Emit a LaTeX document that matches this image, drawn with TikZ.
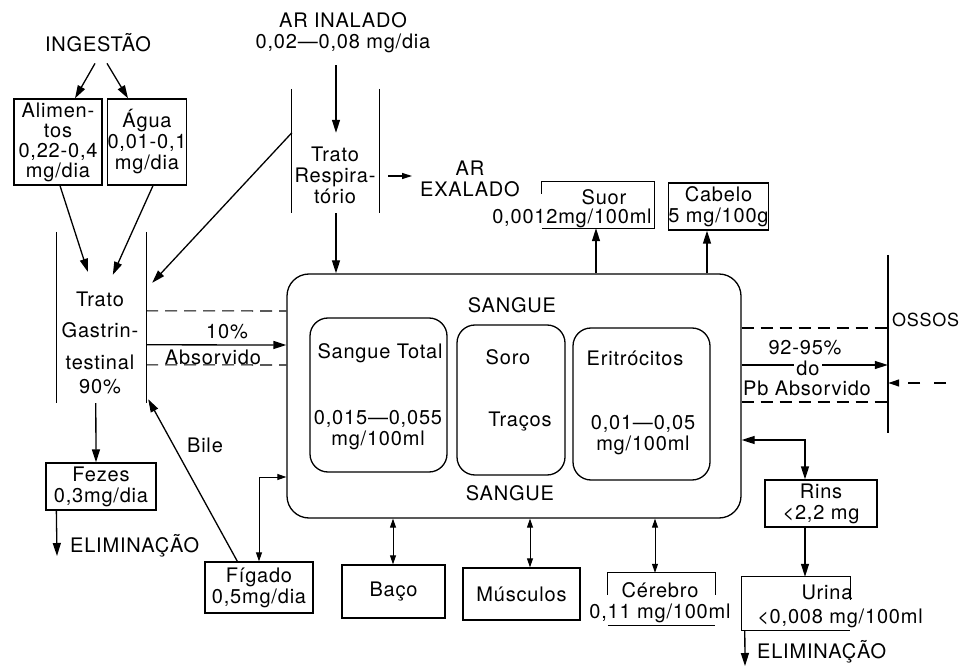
\documentclass[tikz,border=0pt]{standalone}
\usepackage{fontspec}
\setmainfont[LetterSpace=4]{TeX Gyre Heros}
\usetikzlibrary{arrows.meta}

\tikzset{
  txt/.style={font=\fontsize{20}{21}\selectfont, inner sep=0pt, align=center},
  box/.style={txt, draw, line width=1.3pt},
  zone/.style={inner sep=0pt, minimum width=0pt, minimum height=0pt},
  cell/.style={draw, line width=1.3pt, rounded corners=18pt},
  wall/.style={line width=1.3pt},
  arr/.style={line width=1.3pt, -{Triangle[length=13pt,width=8pt]}},
  biarr/.style={line width=1pt, {Triangle[length=9pt,width=6pt]}-{Triangle[length=9pt,width=6pt]}},
  bigbiarr/.style={line width=1.3pt, {Triangle[length=13pt,width=8pt]}-{Triangle[length=13pt,width=8pt]}},
  hatch/.style={line width=1.1pt, dash pattern=on 12pt off 7pt},
}

\begin{document}
\begin{tikzpicture}[x=1pt,y=-1pt]
\useasboundingbox (0,0) rectangle (962,668);

% ingestao
\node[txt] (ingest) at (98,43) {INGESTÃO};
\node[box, minimum width=88, minimum height=86] (alim) at (58,142) {Alimen-\\[-1pt]tos\\[-1pt]0,22-0,4\\[-1pt]mg/dia};
\node[box, minimum width=66, minimum height=86] (agua) at (147,142) {Água\\0,01-0,1\\mg/dia};
\draw[arr] ([xshift=-3pt,yshift=-11pt]ingest.south) -- ([xshift=17pt]alim.north);
\draw[arr] ([xshift=9pt,yshift=-11pt]ingest.south) -- ([xshift=-19pt]agua.north);

% trato gastrintestinal
\node[zone, minimum width=89, minimum height=171] (gi) at (101.5,317.5) {};
\draw[wall] (gi.north west) -- (gi.south west);
\draw[wall] (gi.north east) -- (gi.south east);
\node[txt] (gitxt) at (100,343) {Trato\\[10pt]Gastrin-\\[11pt]testinal\\[3pt]90\%};
\draw[arr] ([xshift=2pt]alim.south) -- ([xshift=31pt,yshift=-40pt]gi.north west);
\draw[arr] ([xshift=6pt]agua.south) -- ([xshift=56pt,yshift=-43pt]gi.north west);

% trato respiratorio
\node[txt] (inal) at (343,33) {AR INALADO\\0,02—0,08 mg/dia};
\node[zone, minimum width=87, minimum height=124] (resp) at (335.5,151) {};
\draw[wall] (resp.north west) -- (resp.south west);
\draw[wall] (resp.north east) -- (resp.south east);
\node[txt] (resptxt) at (335,175) {Trato\\Respira-\\tório};
\node[txt] (exal) at (470,179) {AR\\EXALADO};
\draw[arr] ([xshift=-7pt,yshift=-12pt]inal.south) -- ([xshift=0.5pt,yshift=-44pt]resp.north);
\draw[arr] ([yshift=-44pt]resp.north west) -- ([xshift=6pt,yshift=-51pt]gi.north east);
\draw[line width=1.3pt, -{Triangle[length=10pt,width=6pt]}] ([xshift=9pt,yshift=-25pt]resp.east) -- ([xshift=-8pt,yshift=3pt]exal.west);

% sangue
\node[draw, line width=1.3pt, rounded corners=22pt, minimum width=454, minimum height=244] (sangue) at (514,396) {};
\node[txt] (sangtop) at (512,305) {SANGUE};
\node[txt] (sangbot) at (510,493) {SANGUE};
\node[cell, minimum width=137, minimum height=154] (total) at (378.5,395) {};
\node[txt] (totname) at (380,353) {Sangue Total};
\node[txt] (totval) at (378,430) {0,015—0,055\\mg/100ml};
\node[cell, minimum width=108, minimum height=150] (soro) at (511,400) {};
\node[txt] (soroname) at (508,357) {Soro};
\node[txt] (soroval) at (520,422) {Traços};
\node[cell, minimum width=137, minimum height=152] (erit) at (641.5,404) {};
\node[txt] (eritname) at (635,358) {Eritrócitos};
\node[txt] (eritval) at (643,435) {0,01—0,05\\mg/100ml};
\draw[arr] ([xshift=0.5pt]resp.south) -- ([xshift=-178pt]sangue.north);

% absorcao intestinal
\draw[hatch] ([yshift=-79pt]gi.north east) -- ([yshift=85pt]sangue.west);
\draw[arr] ([yshift=-113pt]gi.north east) -- ([yshift=51pt]sangue.west);
\draw[hatch] ([yshift=-133pt]gi.north east) -- ([yshift=31pt]sangue.west);
\node[txt] (pct10) at (227,332) {10\%};
\node[txt] (absorv) at (213,357) {Absorvido};

% suor, cabelo
\node[zone, minimum width=112, minimum height=46] (suor) at (598,205) {};
\draw[wall] ([yshift=-12pt]suor.north west) -- (suor.north west) -- (suor.north east) -- (suor.south east) -- (suor.south west);
\node[txt] (suorname) at (604,197) {Suor};
\node[txt] (suorval) at (572,218) {0,0012mg/100ml};
\node[box, minimum width=89, minimum height=47] (cabelo) at (718.5,206.5) {Cabelo\\5 mg/100g};
\draw[arr] ([xshift=82pt]sangue.north) -- ([xshift=-2pt]suor.south);
\draw[arr] ([xshift=193pt]sangue.north) -- ([xshift=-11.5pt]cabelo.south);

% ossos
\node[zone, minimum height=178] (ossos) at (888,344) {};
\draw[wall] (ossos.north) -- (ossos.south);
\node[txt, font=\fontsize{18}{20}\selectfont, anchor=west] (ossoname) at (892,320) {OSSOS};
\draw[hatch] ([yshift=68pt]sangue.east) -- ([yshift=16pt]ossos.west);
\draw[arr] ([yshift=31pt]sangue.east) -- ([yshift=-21pt]ossos.west);
\draw[hatch] ([yshift=-6pt]sangue.east) -- ([yshift=-58pt]ossos.west);
\node[txt] (pct92) at (805,348) {92-95\%};
\node[txt, fill=white, inner xsep=2pt] (pctdo) at (808,368) {do};
\node[txt] (pbabs) at (807,388) {Pb Absorvido};
\coordinate (ossin) at (946,383);
\draw[line width=1.1pt, dash pattern=on 12pt off 14pt, -{Triangle[length=11pt,width=7pt]}] (ossin) -- ([yshift=-39pt]ossos.east);

% rins, urina
\node[box, minimum width=112, minimum height=47] (rins) at (821,503.5) {Rins\\<2,2 mg};
\draw[bigbiarr] ([yshift=-44pt]sangue.east) -| ([xshift=-16pt]rins.north);
\node[zone, minimum width=108, minimum height=53] (urina) at (796,603.5) {};
\draw[wall] ([yshift=-23pt]urina.north east) -- (urina.north east) -- (urina.north west) -- (urina.south west) -- (urina.south east);
\node[txt] (urname) at (827,592) {Urina};
\node[txt] (urval) at (840,618) {<0,008 mg/100ml};
\draw[arr] ([xshift=-16pt]rins.south) -- ([xshift=9pt]urina.north);
\coordinate (urout) at (745,666);
\draw[arr] ([xshift=3pt]urina.south west) -- (urout);
\node[txt, anchor=west] (elim2) at (757,652) {ELIMINAÇÃO};

% fezes
\node[box, minimum width=110, minimum height=47] (fezes) at (101,486.5) {Fezes\\0,3mg/dia};
\draw[arr] ([xshift=39pt]gi.south west) -- ([xshift=-5pt]fezes.north);
\coordinate (fezout) at (57,556);
\draw[arr] ([xshift=11pt]fezes.south west) -- (fezout);
\node[txt, anchor=west] (elim1) at (70,546) {ELIMINAÇÃO};

% figado, baco, musculos, cerebro
\node[box, minimum width=108, minimum height=51] (figado) at (259,587.5) {Fígado\\0,5mg/dia};
\draw[arr] ([xshift=33pt]figado.north west) -- ([xshift=2pt,yshift=4pt]gi.south east);
\node[txt] (bile) at (205,445) {Bile};
\draw[biarr] (figado.north) |- ([yshift=-81pt]sangue.west);
\node[box, minimum width=103, minimum height=53] (baco) at (393.5,591.5) {Baço};
\draw[biarr] ([xshift=-121pt]sangue.south) -- ([xshift=-0.5pt]baco.north);
\node[box, minimum width=117, minimum height=52] (musc) at (521.5,594) {Músculos};
\draw[biarr] ([xshift=16pt]sangue.south) -- ([xshift=8.5pt]musc.north);
\node[zone, minimum width=107, minimum height=52] (cerebro) at (661.5,599) {};
\draw[wall] ([yshift=-22pt]cerebro.north west) -- (cerebro.north west) -- (cerebro.north east) -- ([yshift=-22pt]cerebro.north east);
\draw[wall] (cerebro.south west) -- (cerebro.south east);
\node[txt] (cername) at (660,590) {Cérebro};
\node[txt] (cerval) at (660,613) {0,11 mg/100ml};
\draw[biarr] ([xshift=141pt]sangue.south) -- ([xshift=-6.5pt]cerebro.north);
\end{tikzpicture}
\end{document}
